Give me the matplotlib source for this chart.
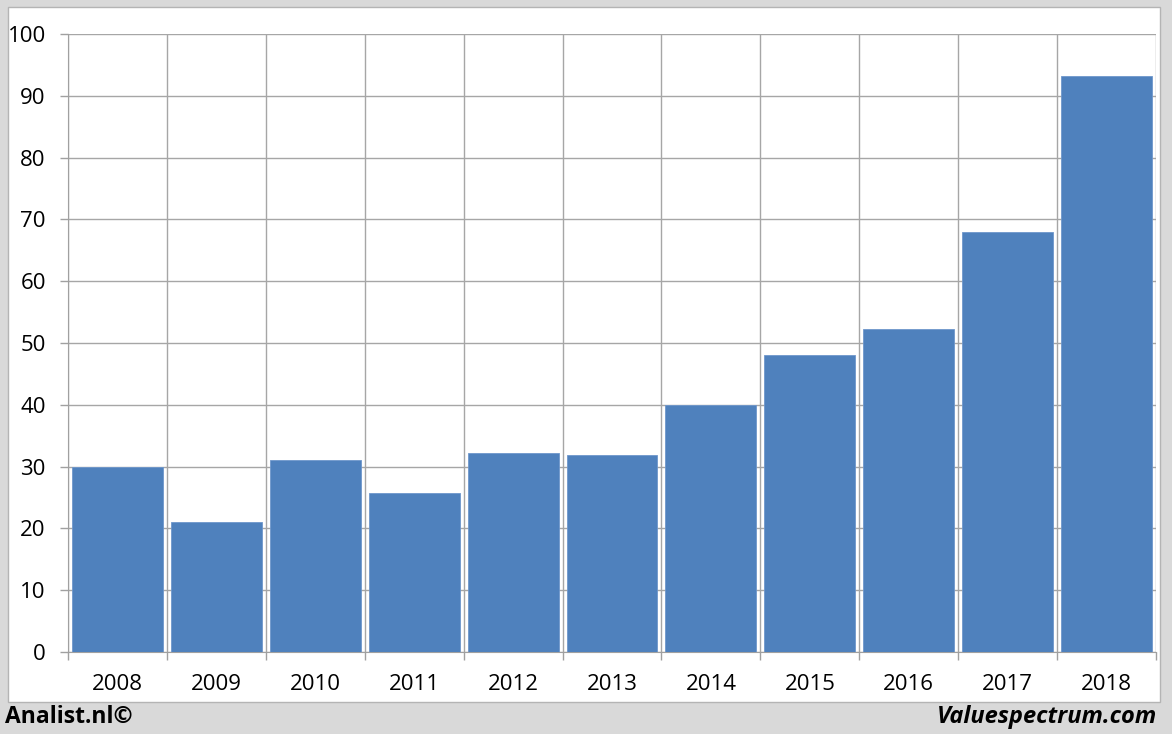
import matplotlib
matplotlib.use("Agg")
import matplotlib.pyplot as plt
from matplotlib.patches import Rectangle
import numpy as np

years = ["2008", "2009", "2010", "2011", "2012", "2013", "2014", "2015", "2016", "2017", "2018"]
values = [30.0, 21.0, 31.1, 25.7, 32.2, 31.9, 40.0, 48.1, 52.3, 68.0, 93.2]
yticks = [0, 10, 20, 30, 40, 50, 60, 70, 80, 90, 100]

plt.rcParams['font.family'] = ['Open Sans', 'DejaVu Sans']

fig = plt.figure(figsize=(11.72, 7.34), dpi=100, facecolor='#d9d9d9')

# white inner panel
fig.patches.append(Rectangle((8 / 1172, 1 - 702 / 734), 1152 / 1172, 695 / 734,
                             transform=fig.transFigure, facecolor='white',
                             edgecolor='#b4b4b4', linewidth=1.0, zorder=-10))

ax = fig.add_axes([68 / 1172, 82 / 734, 1088 / 1172, 618 / 734])
ax.set_zorder(5)
ax.set_facecolor('none')

x = np.arange(len(years))
ax.bar(x, values, width=0.92, color='#4f81bd', edgecolor='#6f97cc', linewidth=0.6, zorder=3)

ax.set_xlim(-0.5, len(years) - 0.5)
ax.set_ylim(0, 100)
ax.set_yticks(yticks)
ax.set_yticklabels([str(v) for v in yticks])
ax.set_xticks(x)
ax.set_xticklabels(years)
ax.set_xticks(np.arange(-0.5, len(years), 1.0), minor=True)

ax.tick_params(axis='x', which='major', length=0, pad=16, labelsize=16)
ax.tick_params(axis='x', which='minor', length=6, width=1, color='#a0a0a0')
ax.tick_params(axis='y', which='major', length=6, width=1, color='#a0a0a0', pad=10, labelsize=16)

ax.grid(axis='y', which='major', color='#a6a6a6', linewidth=1, zorder=1)
ax.grid(axis='x', which='minor', color='#a6a6a6', linewidth=1, zorder=1)
ax.grid(axis='x', which='major', visible=False)

for s in ['top', 'right']:
    ax.spines[s].set_visible(False)
ax.spines['left'].set_color('#a0a0a0')
ax.spines['bottom'].set_color('#a0a0a0')

fig.text(5 / 1172, 1 - 717 / 734, "Analist.nl©", fontsize=16.5, fontweight='bold',
         ha='left', va='center')
fig.text(1157 / 1172, 1 - 717 / 734, "Valuespectrum.com", fontsize=17, fontweight='bold',
         fontstyle='italic', ha='right', va='center')

fig.savefig("out.png", dpi=100, facecolor=fig.get_facecolor())
